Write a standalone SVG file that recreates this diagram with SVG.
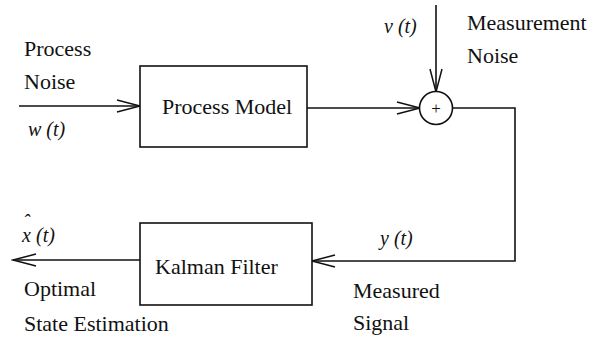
<svg xmlns="http://www.w3.org/2000/svg" width="600" height="337" viewBox="0 0 600 337">
<defs>
<marker id="ah" markerWidth="26" markerHeight="14" refX="24" refY="7" orient="auto" markerUnits="userSpaceOnUse">
<path d="M1,1 L24,7 L1,13" fill="none" stroke="#111" stroke-width="1.5"/>
</marker>
</defs>
<rect width="600" height="337" fill="#fff"/>
<g id="connectors" fill="none" stroke="#111" stroke-width="1.6">
<line x1="19" y1="106" x2="140" y2="106" marker-end="url(#ah)"/>
<line x1="307" y1="108" x2="420" y2="108" marker-end="url(#ah)"/>
<line x1="436" y1="5" x2="436" y2="92" marker-end="url(#ah)"/>
<polyline points="453,108 515,108 515,261 312,261" marker-end="url(#ah)"/>
<line x1="140" y1="260" x2="13" y2="260" marker-end="url(#ah)"/>
</g>
<g id="process-model">
<rect x="140" y="66" width="167" height="81" fill="#fff" stroke="#111" stroke-width="1.6"/>
<text x="162" y="114" font-family="Liberation Serif" font-size="22" fill="#111">Process Model</text>
</g>
<g id="sum">
<circle cx="436" cy="108" r="16.5" fill="#fff" stroke="#111" stroke-width="1.6"/>
<text x="436" y="114" font-family="Liberation Serif" font-size="17" fill="#111" text-anchor="middle">+</text>
</g>
<g id="kalman-filter">
<rect x="140" y="223" width="172" height="82" fill="#fff" stroke="#111" stroke-width="1.6"/>
<text x="155" y="274" font-family="Liberation Serif" font-size="22" fill="#111">Kalman Filter</text>
</g>
<g id="labels" fill="#111">
<text x="24" y="56" font-family="Liberation Serif" font-size="22">Process</text>
<text x="24" y="89" font-family="Liberation Serif" font-size="22">Noise</text>
<text x="28" y="136" font-family="Liberation Serif" font-size="20" font-style="italic">w (t)</text>
<text x="384" y="33" font-family="Liberation Serif" font-size="20" font-style="italic">v (t)</text>
<text x="467" y="30" font-family="Liberation Serif" font-size="22">Measurement</text>
<text x="467" y="63" font-family="Liberation Serif" font-size="22">Noise</text>
<text font-family="Liberation Serif" font-size="20" font-style="italic"><tspan x="22" y="242">x</tspan><tspan x="23" y="229">ˆ</tspan><tspan x="31" y="242"> (t)</tspan></text>
<text x="24" y="296" font-family="Liberation Serif" font-size="22">Optimal</text>
<text x="24" y="331" font-family="Liberation Serif" font-size="22">State Estimation</text>
<text x="380" y="245" font-family="Liberation Serif" font-size="20" font-style="italic">y (t)</text>
<text x="353" y="298" font-family="Liberation Serif" font-size="22">Measured</text>
<text x="353" y="330" font-family="Liberation Serif" font-size="22">Signal</text>
</g>
</svg>
